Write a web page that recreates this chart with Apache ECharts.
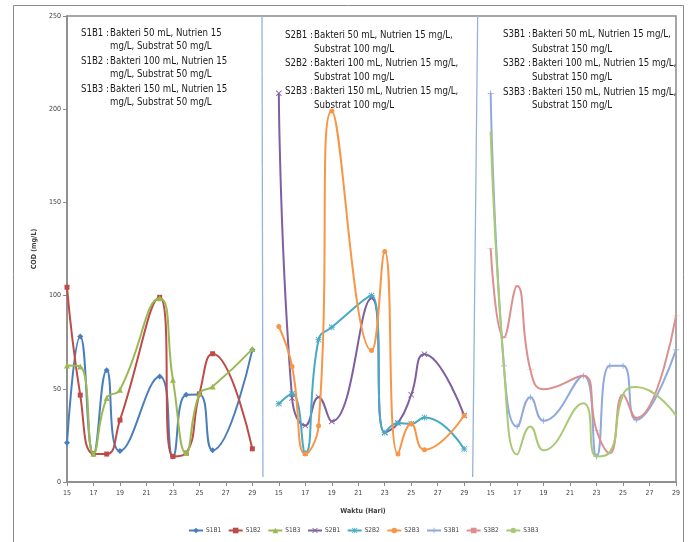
<!DOCTYPE html>
<html>
<head>
<meta charset="utf-8">
<script src="https://cdn.jsdelivr.net/npm/echarts@6/dist/echarts.min.js"></script>
<style>
html,body{margin:0;padding:0;background:#fff;}
#chart{width:694px;height:542px;}
</style>
</head>
<body>
<div id="chart"></div>
<script>
// ---- Data ----
const days = [15, 16, 17, 18, 19, 22, 23, 24, 25, 26, 29];
const tickLabels = ['15', '17', '19', '21', '23', '25', '27', '29'];
const panelOffsets = [0, 16, 32]; // each panel shifted by 16 days along one axis

const S1B1 = [21, 78, 15, 60, 16.6, 56.6, 13.7, 46.8, 47, 17, 71];
const S1B2 = [104.5, 46.6, 15.2, 15, 33.2, 99.1, 13.7, 15.5, 47.3, 68.8, 17.8];
const S1B3 = [62.5, 62, 15.2, 45, 49.5, 98.6, 54.8, 15.5, 47.3, 51.2, 71.3];

const S2B1 = [208.5, 45, 30.3, 45.5, 32.5, 98.6, 26.6, 31.6, 46.8, 68.6, 35.7];
const S2B2 = [42, 47.3, 15.5, 76.3, 83, 100, 26.6, 31.6, 31.2, 34.6, 17.7];
const S2B3 = [83.4, 62, 15, 30.2, 199, 70.6, 123.6, 15, 31.2, 17.3, 35.7];

const S3B1 = [208.5, 62.3, 29.8, 45.5, 32.8, 57, 13.7, 62.3, 62.3, 33.4, 70.9];
const S3B2 = [125.4, 77.5, 105.2, 60.2, 49.8, 57, 27.7, 15.5, 46.8, 34.3, 89.1];
const S3B3 = [188, 62.3, 14.8, 29.8, 17, 42.3, 13.7, 15.9, 46.8, 51, 35.7];

const seriesNames = ['S1B1','S1B2','S1B3','S2B1','S2B2','S2B3','S3B1','S3B2','S3B3'];
const seriesValues = [S1B1,S1B2,S1B3,S2B1,S2B2,S2B3,S3B1,S3B2,S3B3];
const seriesPanel = [0,0,0,1,1,1,2,2,2];

// Panel separator lines (decoration, in axis units)
const separators = [
  [[29.73, 250], [29.8, 2.7]],
  [[46.02, 250], [45.64, 2.7]]
];

const notes = [
  {label: ['S1B1 :', 'S1B2 :', 'S1B3 :'],
   lines: [['Bakteri 50 mL, Nutrien 15', 'mg/L, Substrat 50 mg/L'],
           ['Bakteri 100 mL, Nutrien 15', 'mg/L, Substrat 50 mg/L'],
           ['Bakteri 150 mL, Nutrien 15', 'mg/L, Substrat 50 mg/L']]},
  {label: ['S2B1 :', 'S2B2 :', 'S2B3 :'],
   lines: [['Bakteri 50 mL, Nutrien 15 mg/L,', 'Substrat 100 mg/L'],
           ['Bakteri 100 mL, Nutrien 15 mg/L,', 'Substrat 100 mg/L'],
           ['Bakteri 150 mL, Nutrien 15 mg/L,', 'Substrat 100 mg/L']]},
  {label: ['S3B1 :', 'S3B2 :', 'S3B3 :'],
   lines: [['Bakteri 50 mL, Nutrien 15 mg/L,', 'Substrat 150 mg/L'],
           ['Bakteri 100 mL, Nutrien 15 mg/L,', 'Substrat 150 mg/L'],
           ['Bakteri 150 mL, Nutrien 15 mg/L,', 'Substrat 150 mg/L']]}
];

// ---- Styles ----
const colors = ['#4A7EBB','#BE4B48','#98B954','#7D60A0','#46AAC5','#F79646','#8EA9DB','#DC8F8D','#A9C976'];
const symbols = [
  'diamond', 'rect', 'triangle',
  'path://M0,1L1,0L5,4L9,0L10,1L6,5L10,9L9,10L5,6L1,10L0,9L4,5Z',
  'path://M0,1L1,0L4.3,3.3V0H5.7V3.3L9,0L10,1L6.7,4.3H10V5.7H6.7L10,9L9,10L5.7,6.7V10H4.3V6.7L1,10L0,9L3.3,5.7H0V4.3H3.3Z',
  'circle',
  'path://M4.3,0H5.7V4.3H10V5.7H5.7V10H4.3V5.7H0V4.3H4.3Z',
  'path://M0,0H10V2H0Z',
  'none'
];
const symSizes = [6,5,6,6,6,5,6,[7,1.6],0];

const noteFont = '9.6px "DejaVu Sans Condensed", "Liberation Sans Narrow", sans-serif';
const noteGeom = [
  {lx: 109, tx: 110, ys: [33, 46, 61, 74, 89, 102]},
  {lx: 313, tx: 314, ys: [35, 49, 63, 77, 91, 105]},
  {lx: 531, tx: 532, ys: [34, 49, 63, 77, 92, 105]}
];

const graphics = [{
  type: 'rect', silent: true, z: -10,
  shape: {x: 13.5, y: 5.5, width: 670, height: 560},
  style: {fill: 'none', stroke: '#8a8a8a', lineWidth: 1}
}, {
  type: 'text', silent: true,
  style: {text: 'Waktu (Hari)', x: 363, y: 511, textAlign: 'center', textVerticalAlign: 'middle',
          font: 'bold 7px "DejaVu Sans Condensed", sans-serif', fill: '#404040'}
}];
notes.forEach((n, p) => {
  const g = noteGeom[p];
  n.label.forEach((lab, k) => {
    graphics.push({type: 'text', silent: true,
      style: {text: lab, x: g.lx, y: g.ys[2*k], textAlign: 'right', textVerticalAlign: 'middle', font: noteFont, fill: '#1a1a1a'}});
    n.lines[k].forEach((ln, j) => {
      graphics.push({type: 'text', silent: true,
        style: {text: ln, x: g.tx, y: g.ys[2*k + j], textAlign: 'left', textVerticalAlign: 'middle', font: noteFont, fill: '#1a1a1a'}});
    });
  });
});

const series = seriesNames.map((name, i) => {
  const off = panelOffsets[seriesPanel[i]];
  const s = {
    name: name,
    type: 'line',
    smooth: 0.5,
    data: days.map((d, k) => [d + off, seriesValues[i][k]]),
    symbol: symbols[i],
    symbolSize: symSizes[i],
    symbolKeepAspect: true,
    showSymbol: symbols[i] !== 'none',
    lineStyle: {color: colors[i], width: 2},
    itemStyle: {color: colors[i]},
    z: 2 + i
  };
  if (i === 0) {
    s.markLine = {
      silent: true, symbol: 'none', animation: false,
      lineStyle: {color: '#95B3D7', width: 1.3, type: 'solid'},
      label: {show: false},
      data: separators.map(sp => [{coord: sp[0]}, {coord: sp[1]}])
    };
  }
  return s;
});

const chart = echarts.init(document.getElementById('chart'), null, {renderer: 'canvas'});
chart.setOption({
  animation: false,
  backgroundColor: '#ffffff',
  color: colors,
  grid: {left: 67, right: 18, top: 16, bottom: 60, show: true, borderColor: '#8a8a8a', borderWidth: 1.5, containLabel: false},
  xAxis: {
    type: 'value', min: 15, max: 61, interval: 2,
    splitLine: {show: false},
    axisLine: {show: true, onZero: false, lineStyle: {color: '#8a8a8a', width: 1.5}},
    axisTick: {show: true, length: 4, lineStyle: {color: '#8a8a8a'}},
    axisLabel: {
      fontSize: 7, color: '#404040', margin: 8,
      fontFamily: '"DejaVu Sans Condensed", sans-serif',
      formatter: function (v) {
        const q = (v - 15) / 2;
        if (Math.abs(q - Math.round(q)) > 1e-6) return '';
        return tickLabels[Math.round(q) % tickLabels.length];
      }
    }
  },
  yAxis: {
    type: 'value', min: 0, max: 250, interval: 50,
    name: 'COD (mg/L)', nameLocation: 'middle', nameGap: 27, nameRotate: 90,
    nameTextStyle: {fontSize: 7, fontWeight: 'bold', color: '#404040',
      fontFamily: '"DejaVu Sans Condensed", sans-serif'},
    splitLine: {show: false},
    axisLine: {show: true, lineStyle: {color: '#8a8a8a', width: 1.5}},
    axisTick: {show: true, length: 4, lineStyle: {color: '#8a8a8a'}},
    axisLabel: {fontSize: 7, color: '#404040', margin: 6,
      fontFamily: '"DejaVu Sans Condensed", sans-serif'}
  },
  legend: {
    data: seriesNames,
    left: 183, top: 522,
    itemWidth: 14, itemHeight: 7, itemGap: 6.5,
    textStyle: {fontSize: 6.5, color: '#404040', padding: [0, 0, 0, -2],
      fontFamily: '"DejaVu Sans Condensed", sans-serif'}
  },
  graphic: graphics,
  series: series
});
</script>
</body>
</html>
